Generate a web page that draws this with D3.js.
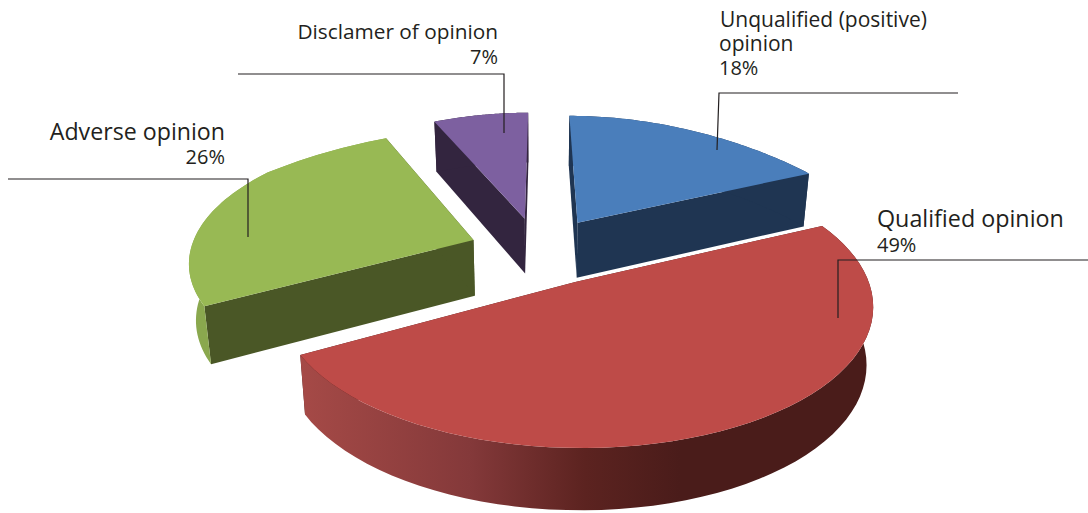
<!DOCTYPE html>
<html>
<head>
<meta charset="utf-8">
<script src="https://cdn.jsdelivr.net/npm/d3@7/dist/d3.min.js"></script>
<style>
html,body{margin:0;padding:0;background:#fff;overflow:hidden}
svg{display:block}
text{font-family:"Open Sans",Lato,sans-serif;fill:#231f20}
</style>
</head>
<body>
<svg id="chart" width="1088" height="513"></svg>
<script>
// Data
const categories = ["Unqualified (positive) opinion", "Qualified opinion", "Adverse opinion", "Disclamer of opinion"];
const values = [18, 49, 26, 7];
const topColors = ["#4a7ebb", "#be4b48", "#98b954", "#7d60a0"];
const sideColors = ["#1f3552", "#4a1c1a", "#4a5726", "#33253f"];
const rimColors = ["#1f3552", null, "#8aa84e", "#33253f"];

// Layout
const W = 1088, H = 513;
const C = {x: 540, y: 250}, R = 283, K = 130.5, P = 0.15;
const EXPLODE = [0.255, 0.265, 0.25, 0.255];
const FAR_START = 0.65, FAR_NARROW = 0.18;
const DEPTH = 56, DEPTH_SLOPE = 0.09, SHRINK = 0.98;

const svg = d3.select("#chart");
const defs = svg.append("defs");

// Red rim shading along the x axis
const shade = defs.append("linearGradient").attr("id", "rimRed")
  .attr("gradientUnits", "userSpaceOnUse").attr("x1", 298).attr("x2", 680).attr("y1", 0).attr("y2", 0);
[[0, "#a64a47"], [0.45, "#84393a"], [0.75, "#5c2320"], [1, "#4a1c1a"]].forEach(([o, c]) =>
  shade.append("stop").attr("offset", o).attr("stop-color", c));

// Projection of a pie-plane point to the screen
function proj(X, Y, bottom) {
  const s = 1 / (1 + P * Y);
  const narrow = 1 - FAR_NARROW * Math.max(0, Y - FAR_START);
  const x = C.x + R * X * s * narrow, y = C.y - K * Y * s;
  if (!bottom) return [x, y];
  return [C.x + (x - C.x) * SHRINK, y + DEPTH * (1 - DEPTH_SLOPE * Y)];
}
const line = d3.line().curve(d3.curveLinear);

const pie = d3.pie().sort(null).startAngle(0).endAngle(2 * Math.PI)(values);

function arcPts(d, i, bottom) {
  const mid = (d.startAngle + d.endAngle) / 2;
  const ex = EXPLODE[i] * Math.sin(mid), ey = EXPLODE[i] * Math.cos(mid);
  const angs = d3.range(0, 61).map(k => d.startAngle + (d.endAngle - d.startAngle) * k / 60);
  return {
    apex: proj(ex, ey, bottom),
    rim: angs.map(a => proj(ex + Math.sin(a), ey + Math.cos(a), bottom))
  };
}

pie.forEach((d, i) => {
  const t = arcPts(d, i, false), b = arcPts(d, i, true);
  const g = svg.append("g").attr("class", "slice").datum(d);
  const rimFill = i === 1 ? "url(#rimRed)" : rimColors[i];
  // radial faces
  [0, t.rim.length - 1].forEach(k => {
    g.append("path")
      .attr("d", line([t.apex, t.rim[k], b.rim[k], b.apex]) + "Z")
      .attr("fill", sideColors[i]);
  });
  // outer rim
  g.append("path")
    .attr("d", line(t.rim.concat(b.rim.slice().reverse())) + "Z")
    .attr("fill", rimFill);
  // top
  g.append("path")
    .attr("d", line([t.apex].concat(t.rim)) + "Z")
    .attr("fill", topColors[i]);
});

// Leader lines
const leaders = [
  [[958, 93], [719, 93], [717, 150]],
  [[1088, 260], [838, 260], [838, 318]],
  [[8, 179], [248, 179], [248, 237]],
  [[238, 74], [504, 74], [504, 133]]
];
svg.append("g").selectAll("path").data(leaders).join("path")
  .attr("d", d => line(d)).attr("fill", "none").attr("stroke", "#231f20").attr("stroke-width", 1.2);

// Labels
const labelLines = [
  [["Unqualified (positive)", 720, 27, 21, "start"], ["opinion", 719, 51, 21, "start"], ["18%", 719, 75, 20, "start"]],
  [["Qualified opinion", 877, 227, 23.3, "start"], ["49%", 877, 252, 20, "start"]],
  [["Adverse opinion", 225, 140, 23.2, "end"], ["26%", 225, 164, 20, "end"]],
  [["Disclamer of opinion", 498, 39, 20.8, "end"], ["7%", 498, 64, 20, "end"]]
];
labelLines.forEach(ls => ls.forEach(([s, x, y, fs, a]) => {
  svg.append("text").attr("x", x).attr("y", y).attr("font-size", fs).attr("text-anchor", a).text(s);
}));
</script>
</body>
</html>
